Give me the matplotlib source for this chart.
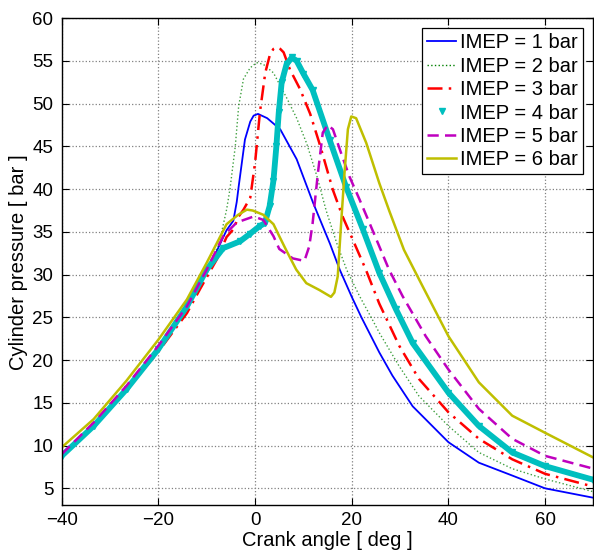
import matplotlib
matplotlib.use('Agg')
import matplotlib.pyplot as plt
from matplotlib.lines import Line2D

plt.rcParams['font.family'] = ['Liberation Sans', 'DejaVu Sans']

# crank angle [deg] and cylinder pressure [bar]
ca_1 = [-40, -33.4, -26.6, -20, -14.1, -10, -7.9, -5.9, -4.5, -3.8, -3.4, -2.1, -1.0, -0.3,
        0.6, 2.5, 5.2, 8.6, 12.0, 15.5, 17.5, 20, 22, 25.7, 28.4, 32.6, 40, 46.3, 53.2, 60, 70]
p_1 = [8.9, 12.3, 16.6, 21.2, 26.2, 30.5, 32.8, 35.2, 36.3, 38.5, 40.3, 45.8, 47.9, 48.6,
       48.8, 48.3, 47.0, 43.5, 38.4, 33.6, 30.6, 27.4, 25.0, 20.9, 18.2, 14.6, 10.4, 8.0, 6.5,
       5.0, 3.9]

ca_2 = [-40, -33.4, -26.6, -20, -14.1, -10, -7.5, -5.9, -5.2, -4.1, -3.4, -2.4, -1.0, 0.3,
        1.7, 3.8, 6.6, 8.6, 10.7, 12.8, 14.7, 17.0, 19.0, 21.6, 24.3, 25.7, 29.8, 33.9, 40,
        46.3, 53.2, 60, 70]
p_2 = [9.0, 12.4, 16.8, 21.4, 26.4, 30.8, 33.5, 37.6, 40.0, 45.0, 49.7, 52.9, 54.2, 54.8,
       54.6, 53.6, 50.6, 48.3, 45.3, 41.5, 37.5, 33.5, 30.5, 27.5, 24.7, 23.2, 19.3, 15.8, 12.3,
       9.2, 7.3, 6.1, 4.6]

ca_3 = [-40, -33.4, -26.6, -20, -14.1, -11.4, -7.9, -5.9, -4.5, -3.4, -2.4, -1.0, 0, 1.0,
        2.1, 3.1, 3.8, 4.5, 5.2, 5.9, 7.2, 9.3, 11.4, 13.4, 16.1, 18.1, 20.2, 22.9, 25.7, 29.8,
        33.9, 40, 46.3, 53.2, 60, 70]
p_3 = [8.9, 12.2, 16.5, 21.0, 25.5, 28.3, 31.8, 34.4, 35.3, 36.8, 37.6, 39.0, 43.1, 49.0,
       53.6, 55.8, 56.4, 56.6, 56.4, 56.0, 54.0, 51.7, 48.8, 45.2, 39.9, 36.8, 34.1, 30.6, 26.6,
       21.7, 17.8, 13.9, 10.8, 8.4, 6.7, 5.2]

ca_4 = [-40, -33.4, -26.6, -20, -14.1, -10, -6.6, -3.1, -1.0, 1.0, 2.0, 3.0, 3.8, 4.4, 4.9,
        5.5, 6.5, 7.6, 8.6, 10.0, 11.9, 15.4, 18.8, 22.3, 25.7, 29.1, 32.6, 40, 46.3, 53.2, 60, 70]
p_4 = [8.8, 12.3, 16.6, 21.3, 26.3, 30.6, 33.1, 33.9, 34.8, 35.7, 36.0, 38.0, 41.0, 45.0, 49.0,
       52.5, 54.6, 55.4, 55.0, 53.5, 51.6, 45.8, 40.3, 35.3, 30.2, 26.0, 22.0, 16.2, 12.3, 9.2,
       7.6, 6.0]

ca_5 = [-40, -33.4, -26.6, -20, -14.1, -10, -6.6, -3.8, -0.3, 1.7, 3.8, 5.0, 7.8, 10.2, 11.2,
        11.9, 13.0, 14.0, 15.0, 16.1, 17.8, 19.5, 21.6, 23.7, 25.7, 27.7, 30.5, 35.3, 40, 46.3,
        53.2, 60, 70]
p_5 = [9.0, 12.7, 17.0, 21.7, 26.3, 30.6, 34.5, 36.1, 36.8, 36.4, 34.5, 33.0, 31.9, 31.6, 33.3,
       36.0, 41.9, 46.6, 47.5, 47.0, 44.2, 41.5, 38.8, 36.0, 33.3, 30.6, 27.5, 22.8, 18.9, 14.3,
       10.8, 8.8, 7.3]

ca_6 = [-40, -33.4, -26.6, -20, -14.1, -10, -5.9, -3.5, -1.7, -0.5, 1.7, 3.8, 5.0, 6.4, 8.5,
        10.6, 13.3, 15.7, 16.4, 17.1, 17.8, 18.5, 19.2, 19.9, 20.9, 23.0, 25.7, 27.8, 30.8, 34.6,
        40, 46.3, 53.2, 60, 70]
p_6 = [9.8, 13.1, 17.6, 22.4, 27.1, 31.4, 35.9, 37.0, 37.6, 37.5, 37.0, 35.9, 34.5, 32.9, 30.6,
       29.0, 28.2, 27.4, 27.9, 29.8, 36.0, 41.9, 47.0, 48.5, 48.3, 45.4, 40.7, 37.4, 32.9, 28.7,
       22.8, 17.4, 13.5, 11.5, 8.6]

labels = ['IMEP = 1 bar', 'IMEP = 2 bar', 'IMEP = 3 bar',
          'IMEP = 4 bar', 'IMEP = 5 bar', 'IMEP = 6 bar']

blue = (0, 0, 1)
green = (0, 0.5, 0)
red = (1, 0, 0)
cyan = (0, 0.75, 0.75)
magenta = (0.75, 0, 0.75)
yellow = (0.75, 0.75, 0)

fig = plt.figure(figsize=(5.94, 5.5), dpi=100)
ax = fig.add_axes([0.104, 0.081, 0.895, 0.886])

ax.plot(ca_1, p_1, '-', color=blue, lw=1.3)
ax.plot(ca_2, p_2, ':', color=green, lw=1.0, alpha=0.75)
ax.plot(ca_3, p_3, color=red, lw=1.8, dashes=[6, 2.5, 1, 2.5])
ax.plot(ca_4, p_4, '-', color=cyan, lw=4.2)
ax.plot(ca_4, p_4, 'v', color=cyan, ms=4)
ax.plot(ca_5, p_5, color=magenta, lw=1.8, dashes=[4.5, 2.5])
ax.plot(ca_6, p_6, '-', color=yellow, lw=1.8)

handles = [
    Line2D([], [], color=blue, lw=1.3),
    Line2D([], [], color=green, lw=1.0, ls=':'),
    Line2D([], [], color=red, lw=1.8, dashes=[6, 2.5, 1, 2.5]),
    Line2D([], [], color=cyan, ls='none', marker='v', ms=5),
    Line2D([], [], color=magenta, lw=1.8, dashes=[4.5, 2.5]),
    Line2D([], [], color=yellow, lw=1.8),
]
leg = ax.legend(handles, labels, loc='upper right', fontsize=14.5, fancybox=False,
                framealpha=1, edgecolor='k', borderpad=0.25, labelspacing=0.22,
                handlelength=1.45, handletextpad=0.2, borderaxespad=0.5)
leg.get_frame().set_linewidth(0.9)

ax.set_xlim(-40, 70)
ax.set_ylim(3, 60)
ax.set_xticks([-40, -20, 0, 20, 40, 60])
ax.set_yticks(range(5, 61, 5))
ax.grid(True, ls=':', color='0.5', lw=0.9)
ax.tick_params(direction='in', top=True, right=True, labelsize=13.5, length=5)
ax.tick_params(axis='x', pad=5)
ax.tick_params(axis='y', pad=6)
for s in ax.spines.values():
    s.set_linewidth(1.0)

ax.set_xlabel('Crank angle [ deg ]', fontsize=14.5, labelpad=1)
ax.set_ylabel('Cylinder pressure [ bar ]', fontsize=14.5, labelpad=3)

fig.savefig('out.png', dpi=100)
